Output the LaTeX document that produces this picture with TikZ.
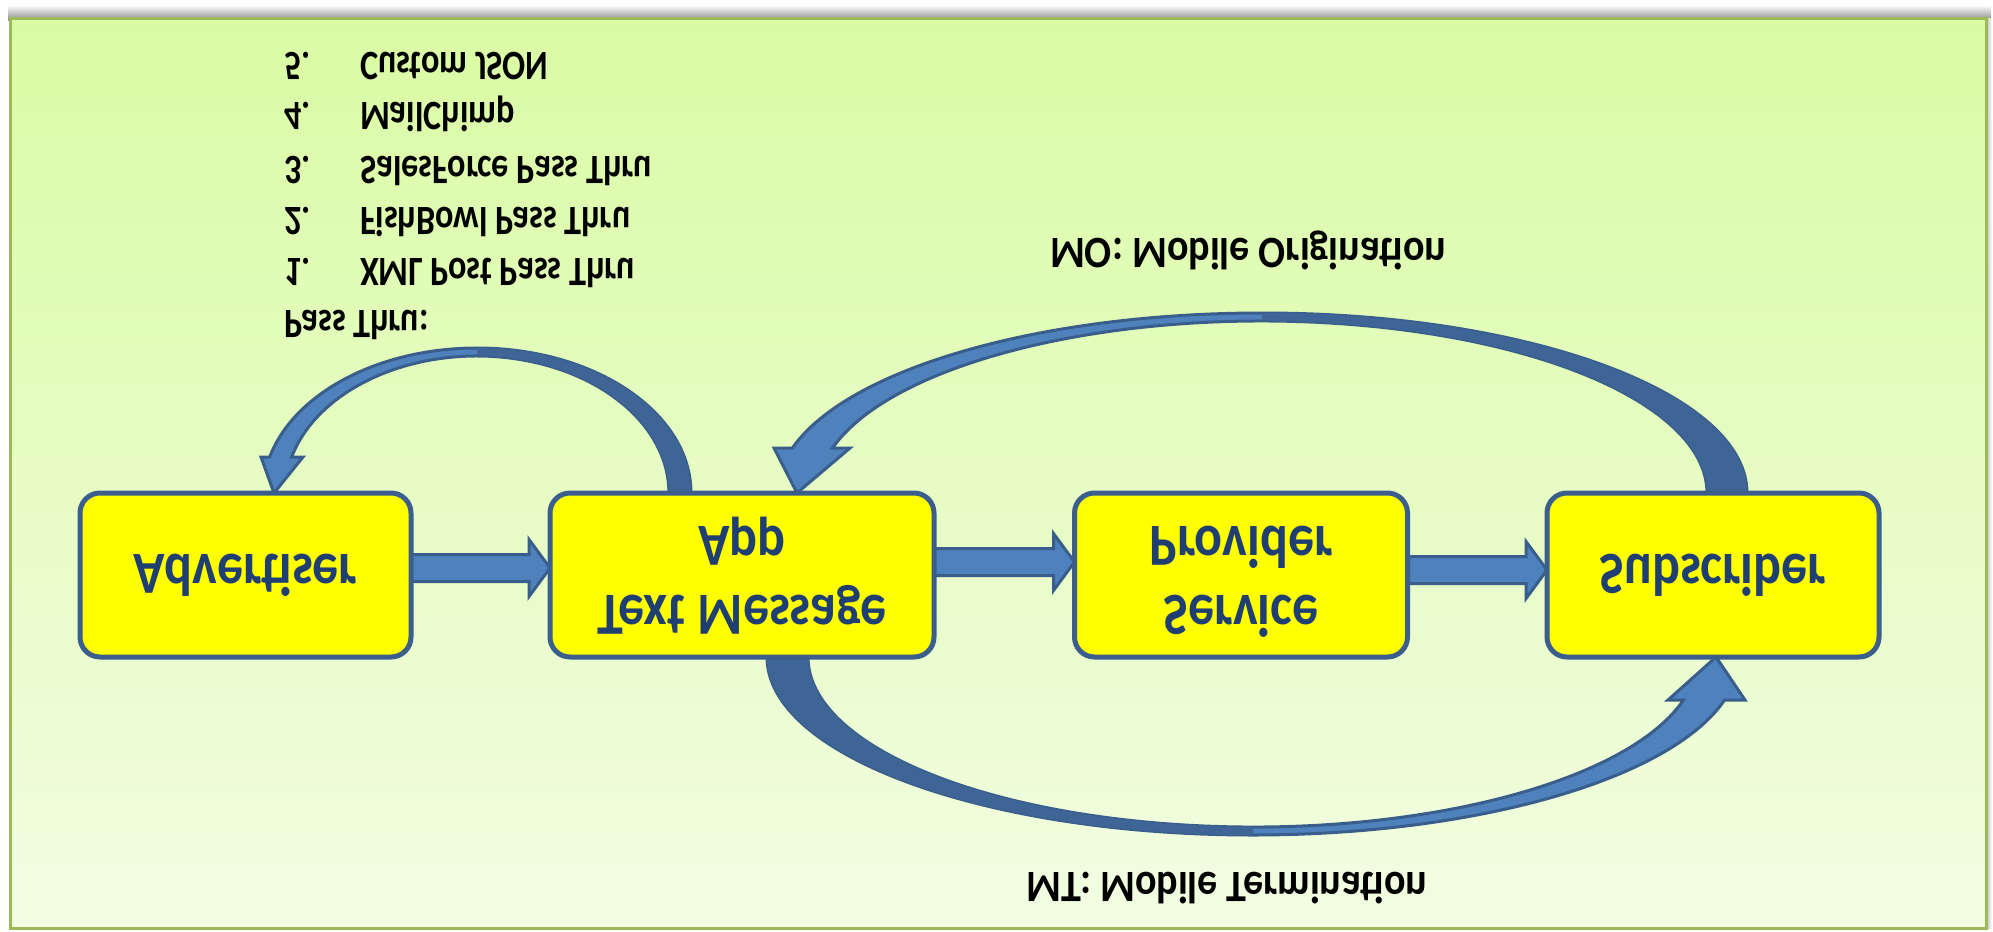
\documentclass[tikz,border=0pt]{standalone}
\usepackage{fontspec}
\setmainfont{Carlito}
\usetikzlibrary{calc}
\definecolor{panelTop}{HTML}{DAFBA4}
\definecolor{panelBot}{HTML}{F2FDE2}
\definecolor{panelLine}{HTML}{9BBB59}
\definecolor{boxFill}{HTML}{FFFF00}
\definecolor{boxLine}{HTML}{3B5E8C}
\definecolor{boxText}{HTML}{1F3F73}
\definecolor{arrFill}{HTML}{4F81BD}
\definecolor{arrBack}{HTML}{3E6596}
\definecolor{arrLine}{HTML}{3A5E8C}
\newcommand{\flipbox}[2]{\scalebox{1}[-#1]{#2}}
\newcommand{\blockarrowLR}[3]{%
  \path[blockarrow]
   ($(#1.east)+(0,#3-13.5)$) -- ($(#2.west)+(-21,#3-13.5)$) -- ($(#2.west)+(-21,#3-28.5)$)
   -- ($(#2.west)+(0,#3)$) -- ($(#2.west)+(-21,#3+28.5)$) -- ($(#2.west)+(-21,#3+13.5)$)
   -- ($(#1.east)+(0,#3+13.5)$) -- cycle;}
\pgfdeclarelayer{panel}
\pgfdeclarelayer{arrows}
\pgfsetlayers{panel,arrows,main}
\begin{document}
\begin{tikzpicture}[x=0.5pt,y=-0.5pt,
  stagebox/.style={draw=boxLine, line width=2.5pt, fill=boxFill, rounded corners=10pt,
    inner sep=0pt, outer sep=0pt, minimum height=82pt, text=boxText,
    font=\fontsize{26}{30}\selectfont\bfseries, align=center},
  blockarrow/.style={fill=arrFill, draw=arrLine, line width=1.5pt, line join=miter},
  listtext/.style={inner sep=0pt, outer sep=0pt, text=black, font=\fontsize{17.1}{20}\selectfont\bfseries},
  arclabel/.style={inner sep=0pt, outer sep=0pt, text=black, font=\fontsize{20}{24}\selectfont\bfseries}]

\useasboundingbox (0,0) rectangle (1993,932);

\begin{pgfonlayer}{panel}
  \fill[white] (0,0) rectangle (1993,932);
  \fill[top color=white, bottom color=black!45] (8,5) rectangle (1991,20);
  \fill[left color=black!30, right color=white] (1985,18) rectangle (1992,928);
  \draw[panelLine, line width=1.5pt, top color=panelTop, bottom color=panelBot] (10,18) rectangle (1986,928);
\end{pgfonlayer}

% boxes
\node[stagebox, minimum width=165.5pt] (adv) at (245.5,575) {\flipbox{1.15}{Advertiser}};
\node[stagebox, minimum width=192pt] (app) at (742,575) {\flipbox{1.15}{\begin{tabular}{@{}c@{}}Text Message\\App\end{tabular}}};
\node[stagebox, minimum width=166.5pt] (svc) at (1241,575) {\flipbox{1.15}{\begin{tabular}{@{}c@{}}Service\\Provider\end{tabular}}};
\node[stagebox, minimum width=166pt] (sub) at (1713,575) {\flipbox{1.15}{Subscriber}};

% list
\node[listtext, anchor=base west] (n5) at (284,52) {\flipbox{1.22}{5.}};
\node[listtext, anchor=base west] (t5) at (360,52) {\flipbox{1.22}{Custom JSON}};
\node[listtext, anchor=base west] (n4) at (284,102) {\flipbox{1.22}{4.}};
\node[listtext, anchor=base west] (t4) at (360,102) {\flipbox{1.22}{MailChimp}};
\node[listtext, anchor=base west] (n3) at (284,156) {\flipbox{1.22}{3.}};
\node[listtext, anchor=base west] (t3) at (360,156) {\flipbox{1.22}{SalesForce Pass Thru}};
\node[listtext, anchor=base west] (n2) at (284,207) {\flipbox{1.22}{2.}};
\node[listtext, anchor=base west] (t2) at (360,207) {\flipbox{1.22}{FishBowl Pass Thru}};
\node[listtext, anchor=base west] (n1) at (284,258) {\flipbox{1.22}{1.}};
\node[listtext, anchor=base west] (t1) at (360,258) {\flipbox{1.22}{XML Post Pass Thru}};
\node[listtext, anchor=base west] (pt) at (284,310) {\flipbox{1.22}{Pass Thru:}};

% arc labels
\node[arclabel, anchor=base] (mo) at (1248,238) {\flipbox{1.12}{MO: Mobile Origination}};
\node[arclabel, anchor=base] (mt) at (1227,872) {\flipbox{1.12}{MT: Mobile Termination}};

\begin{pgfonlayer}{arrows}
  % straight arrows
  \blockarrowLR{adv}{app}{-7}
  \blockarrowLR{app}{svc}{-13}
  \blockarrowLR{svc}{sub}{-5}

  % Pass Thru: App -> Advertiser
  \path[blockarrow] ($(app.north)+(-51,0)$) arc[start angle=0,end angle=-165.62,x radius=214,y radius=145]
    -- ($(adv.north)+(15.5,-36)$) -- ($(adv.north)+(28.5,0)$) -- ($(adv.north)+(57.5,-36)$)
    -- ($(adv.north)+(46.2,-36)$) arc[start angle=-164.76,end angle=0,x radius=192,y radius=137] -- cycle;
  \fill[arrBack] ($(app.north)+(-51,0)$) arc[start angle=0,end angle=-90,x radius=214,y radius=145]
    -- ++(0,8) arc[start angle=-90,end angle=0,x radius=192,y radius=137] -- cycle;

  % MO: Subscriber -> App
  \path[blockarrow] ($(sub.north)+(34,0)$) arc[start angle=0,end angle=-165.52,x radius=485,y radius=180]
    -- ($(app.north)+(32,-45)$) -- ($(app.north)+(55,0)$) -- ($(app.north)+(108,-45)$)
    -- ($(app.north)+(90.5,-45)$) arc[start angle=-164.83,end angle=0,x radius=445,y radius=172] -- cycle;
  \fill[arrBack] ($(sub.north)+(34,0)$) arc[start angle=0,end angle=-90,x radius=485,y radius=180]
    -- ++(0,8) arc[start angle=-90,end angle=0,x radius=445,y radius=172] -- cycle;

  % MT: App -> Subscriber
  \path[blockarrow] ($(app.south)+(25,0)$) arc[start angle=180,end angle=13.98,x radius=486,y radius=178]
    -- ($(sub.south)+(32,43)$) -- ($(sub.south)+(3,0)$) -- ($(sub.south)+(-45,43)$)
    -- ($(sub.south)+(-29.5,43)$) arc[start angle=14.65,end angle=180,x radius=445,y radius=170] -- cycle;
  \fill[arrBack] ($(app.south)+(25,0)$) arc[start angle=180,end angle=90,x radius=486,y radius=178]
    -- ++(0,-8) arc[start angle=90,end angle=180,x radius=445,y radius=170] -- cycle;
\end{pgfonlayer}
\end{tikzpicture}
\end{document}
